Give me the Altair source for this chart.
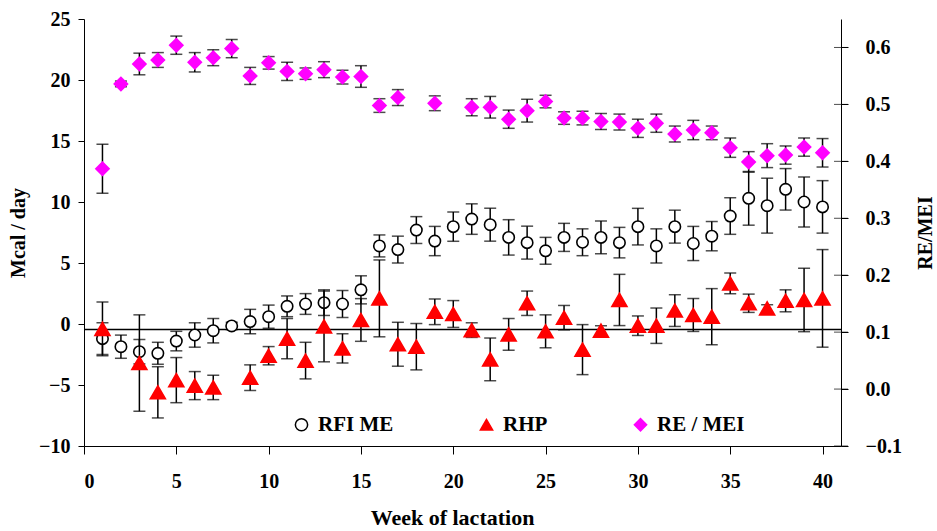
import altair as alt
import pandas as pd

# ---------------- data ----------------
weeks = list(range(1, 41))
rfi_me = [-1.2, -1.86, -2.27, -2.4, -1.4, -0.9, -0.55, -0.16, 0.2, 0.6,
          1.45, 1.64, 1.75, 1.64, 2.8, 6.4, 6.1, 7.7, 6.8, 7.98,
          8.6, 8.14, 7.1, 6.67, 6.0, 7.1, 6.7, 7.1, 6.67, 7.98,
          6.4, 7.98, 6.6, 7.2, 8.85, 10.3, 9.7, 11.04, 10.0, 9.6]
rfi_se = [1.3, 0.95, 1.0, 0.9, 0.8, 1.0, 1.0, 0.3, 1.0, 0.95,
          0.85, 0.85, 1.05, 1.1, 1.15, 0.9, 1.1, 1.1, 1.2, 1.2,
          1.25, 1.35, 1.45, 1.35, 1.1, 1.15, 1.1, 1.35, 1.25, 1.5,
          1.4, 1.35, 1.4, 1.2, 1.5, 2.2, 2.25, 1.7, 2.05, 2.15]

rhp_weeks = [1, 3, 4, 5, 6, 7] + list(range(9, 41))
rhp = [-0.4, -3.2, -5.6, -4.6, -5.05, -5.2,
       -4.4, -2.6, -1.2, -3.0, -0.2, -2.0, 0.33, 2.1, -1.66, -1.86,
       1.0, 0.82, -0.5, -2.9, -0.85, 1.7, -0.6, 0.52, -2.1, -0.55,
       1.97, -0.14, -0.14, 1.1, 0.74, 0.6, 3.33, 1.7, 1.28, 1.9,
       1.97, 2.1]
rhp_se = [2.2, 3.95, 2.1, 1.85, 1.15, 1.0,
          1.05, 0.75, 1.65, 1.5, 2.9, 1.2, 1.75, 3.15, 1.8, 1.9,
          1.05, 1.1, 0.6, 1.75, 1.3, 1.0, 1.35, 1.0, 2.05, 0.4,
          2.1, 0.8, 1.45, 1.3, 1.35, 2.3, 0.85, 0.75, 0.3, 0.9,
          2.6, 4.0]

re_weeks = list(range(1, 18)) + [19] + list(range(21, 41))
re_mei = [0.387, 0.536, 0.571, 0.578, 0.604, 0.574, 0.582, 0.598, 0.550, 0.573,
          0.558, 0.554, 0.561, 0.548, 0.549, 0.498, 0.512,
          0.502,
          0.495, 0.495, 0.474, 0.489, 0.505, 0.476, 0.476, 0.470, 0.469, 0.458,
          0.467, 0.448, 0.455, 0.450, 0.424, 0.399, 0.410, 0.411, 0.425, 0.415]
re_se = [0.043, 0.005, 0.019, 0.013, 0.016, 0.017, 0.014, 0.016, 0.015, 0.011,
         0.016, 0.010, 0.014, 0.012, 0.019, 0.012, 0.014,
         0.013,
         0.015, 0.019, 0.016, 0.020, 0.011, 0.011, 0.012, 0.014, 0.014, 0.016,
         0.016, 0.014, 0.017, 0.012, 0.017, 0.018, 0.021, 0.016, 0.016, 0.025]

series = ["RFI ME", "RHP", "RE / MEI"]
x_ticks = [0, 5, 10, 15, 20, 25, 30, 35, 40]
left_ticks = [-10, -5, 0, 5, 10, 15, 20, 25]
right_ticks = [-0.1, 0.0, 0.1, 0.2, 0.3, 0.4, 0.5, 0.6]
ref_line = [-0.45]

FONT = "Liberation Serif"


def frame(w, v, s, name):
    return pd.DataFrame({"week": w, "value": v, "se": s, "series": name})


rfi_df = frame(weeks, rfi_me, rfi_se, series[0])
rhp_df = frame(rhp_weeks, rhp, rhp_se, series[1])
re_df = frame(re_weeks, re_mei, re_se, series[2])

# ---------------- scales / axes ----------------
xs = alt.Scale(domain=[0, 41], nice=False, zero=False)
x_axis = alt.Axis(values=x_ticks, title="Week of lactation", tickSize=8,
                  labelPadding=17, titlePadding=16, titleFontSize=22,
                  titleX=368, grid=False)
yl = alt.Scale(domain=[-10, 25], nice=False, zero=False)
yl_axis = alt.Axis(values=left_ticks, title="Mcal / day", orient="left",
                   tickSize=6, labelPadding=8, titlePadding=10, grid=False)
yr = alt.Scale(domain=[-0.1, 0.65], nice=False, zero=False)
yr_axis = alt.Axis(values=right_ticks, title="RE/MEI", orient="right",
                   format=".1f", tickSize=7, labelPadding=17, titlePadding=14,
                   titleAngle=270, titleBaseline="top", grid=False)

legend = alt.Legend(title=None, orient="none", legendX=207, legendY=395,
                    direction="horizontal", columnPadding=82, symbolSize=150,
                    symbolStrokeWidth=1.5, labelFont=FONT, labelFontSize=21,
                    labelFontWeight="bold", labelColor="black", labelOffset=6,
                    padding=0)
fill_scale = alt.Scale(domain=series, range=["white", "#FF0000", "#FF00FF"])
stroke_scale = alt.Scale(domain=series, range=["black", "#FF0000", "#FF00FF"])
shape_scale = alt.Scale(domain=series, range=["circle", "triangle-up", "diamond"])

X = alt.X("week:Q", scale=xs, axis=x_axis)


def series_layers(df, yscale, yaxis, size):
    base = alt.Chart(df).transform_calculate(
        lo="datum.value - datum.se", hi="datum.value + datum.se")
    bars = base.mark_rule(color="black", strokeWidth=1.5).encode(
        x=X, y=alt.Y("lo:Q", scale=yscale, axis=yaxis), y2="hi:Q")
    caps = base.transform_fold(["lo", "hi"], as_=["end", "cap"]).mark_tick(
        orient="horizontal", size=12, thickness=1.5, color="black").encode(
        x=X, y=alt.Y("cap:Q", scale=yscale, axis=yaxis))
    pts = alt.Chart(df).mark_point(size=size, strokeWidth=1.6, opacity=1,
                                   fillOpacity=1).encode(
        x=X, y=alt.Y("value:Q", scale=yscale, axis=yaxis),
        fill=alt.Fill("series:N", scale=fill_scale, legend=legend),
        stroke=alt.Stroke("series:N", scale=stroke_scale, legend=legend),
        shape=alt.Shape("series:N", scale=shape_scale, legend=legend))
    return [bars, caps, pts]


hline = alt.Chart(pd.DataFrame({"y": ref_line})).mark_rule(
    color="black", strokeWidth=1.4).encode(
    y=alt.Y("y:Q", scale=yl, axis=yl_axis))

left = alt.layer(hline,
                 *series_layers(rfi_df, yl, yl_axis, 130),
                 *series_layers(rhp_df, yl, yl_axis, 225))

cross_ticks = alt.Chart(pd.DataFrame({"t": right_ticks})).mark_tick(
    orient="horizontal", size=14, thickness=1, color="black").encode(
    x=alt.X(datum=41, scale=xs, axis=x_axis),
    y=alt.Y("t:Q", scale=yr, axis=yr_axis))

right = alt.layer(*series_layers(re_df, yr, yr_axis, 175), cross_ticks)

chart = alt.layer(left, right).resolve_scale(y="independent").properties(
    width=757, height=427,
    padding={"left": 84, "top": 19, "right": 96, "bottom": 85},
    autosize=alt.AutoSizeParams(type="none"),
    background="white",
).configure_view(stroke=None).configure_axis(
    labelFont=FONT, labelFontSize=20, labelFontWeight="bold", labelColor="black",
    titleFont=FONT, titleFontSize=20, titleFontWeight="bold", titleColor="black",
    domainColor="black", tickColor="black", domainWidth=1, tickWidth=1,
).configure_legend(
    labelFont=FONT, labelFontSize=21, labelFontWeight="bold", labelColor="black",
)

chart.save("out.html", embed_options={"renderer": "svg", "actions": False})
